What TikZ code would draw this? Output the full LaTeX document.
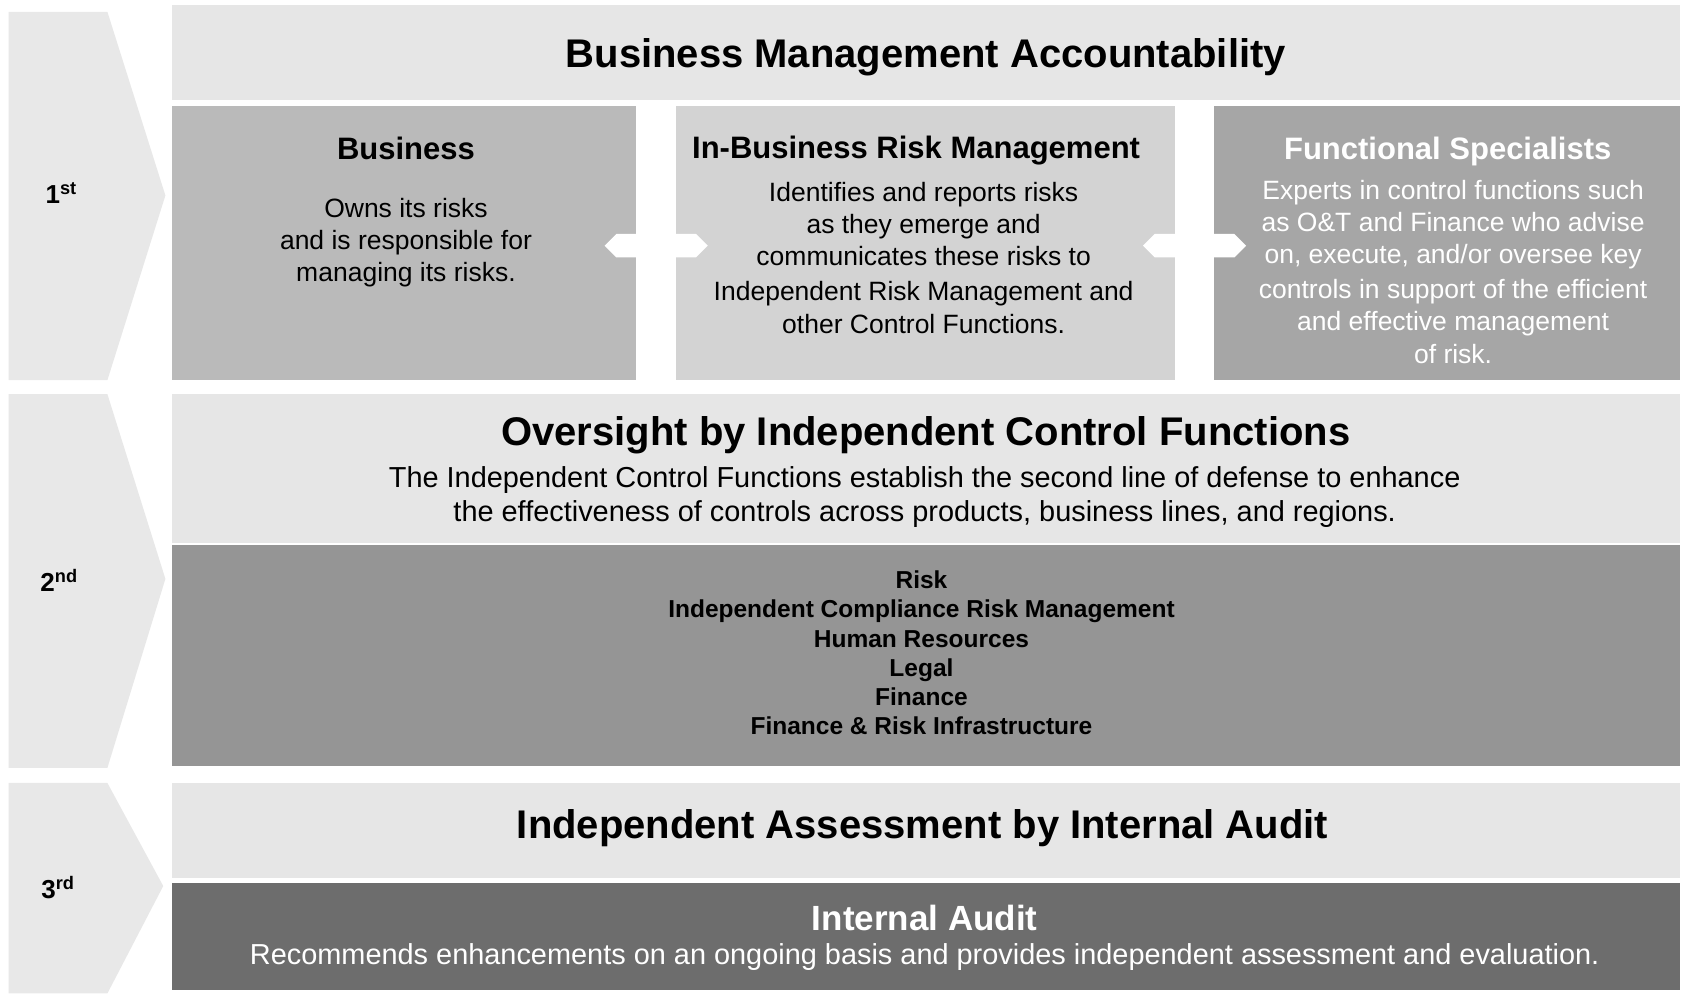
\documentclass[tikz,border=0pt]{standalone}
\usepackage{fontspec}
\setmainfont{Liberation Sans}
\usetikzlibrary{fit,calc}
\definecolor{bannergray}{HTML}{E6E6E6}
\definecolor{chevgray}{HTML}{E8E8E8}
\definecolor{bizgray}{HTML}{BABABA}
\definecolor{ibrmgray}{HTML}{D3D3D3}
\definecolor{specgray}{HTML}{A6A6A6}
\definecolor{icfgray}{HTML}{959595}
\definecolor{auditgray}{HTML}{6D6D6D}
\tikzset{
  block/.style = {inner sep=0pt, outer sep=0pt},
  headline/.style = {font=\fontsize{40}{46}\selectfont\bfseries},
  boxtitle/.style = {font=\fontsize{31}{36}\selectfont\bfseries},
  boxtext/.style = {align=center, font=\fontsize{26.5}{32.2}\selectfont},
  widetext/.style = {align=center, font=\fontsize{28.9}{34.4}\selectfont},
  listtext/.style = {align=center, font=\fontsize{24.5}{29.2}\selectfont\bfseries},
  linelabel/.style = {font=\fontsize{26}{30}\selectfont\bfseries},
  dblarrow/.pic = {\fill[white] (-48,0) -- (-37,-11) -- (37,-11) -- (48,0) -- (37,11) -- (-37,11) -- cycle;}
}
\begin{document}
\begin{tikzpicture}[x=1.074pt, y=-1.074pt]
\fill[white] (0,0) rectangle (1568,925);
\useasboundingbox (0,0) rectangle (1568,925);
% chevrons on the left
\foreach \ytop/\ytip/\ybot/\xtip in {11/182/354/154, 367/539/715/154, 729/825/925/152}
  \fill[chevgray] (8,\ytop) -- (100,\ytop) -- (\xtip,\ytip) -- (100,\ybot) -- (8,\ybot) -- cycle;
\node[linelabel] (first) at (57,180) {1\textsuperscript{st}};
\node[linelabel] (second) at (55,540) {2\textsuperscript{nd}};
\node[linelabel] (third) at (54,826) {3\textsuperscript{rd}};
% first line
\node[block, fill=bannergray, fit={(160,5) (1564,93)}] (bmabar) {};
\node[block, fill=bizgray, fit={(160,98.5) (592.5,354)}] (biz) {};
\node[block, fill=ibrmgray, fit={(629.5,98.5) (1094,354)}] (ibrm) {};
\node[block, fill=specgray, fit={(1130.5,98.5) (1564,354)}] (spec) {};
\pic (arrowA) at ($(biz.east)!.5!(ibrm.west)+(0,2.5)$) {dblarrow};
\pic (arrowB) at ($(ibrm.east)!.5!(spec.west)+(0,2.5)$) {dblarrow};
\node[headline] (bmatitle) at (862,53) {Business Management Accountability};
\node[boxtitle] (biztitle) at (378,138) {Business};
\node[boxtext] (biztext) at (378,226) {Owns its risks\\and is responsible for\\managing its risks.};
\node[boxtitle] (ibrmtitle) at (853,140) {In-Business Risk Management};
\node[boxtext] (ibrmtext) at (860,240) {Identifies and reports risks\\as they emerge and\\communicates these risks to\\[3pt]Independent Risk Management and\\other Control Functions.};
\node[boxtitle, white] (spectitle) at (1348,141) {Functional Specialists};
\node[boxtext, white] (spectext) at (1353,253) {Experts in control functions such\\as O\&T and Finance who advise\\on, execute, and/or oversee key\\[3pt]controls in support of the efficient\\and effective management\\of risk.};
% second line
\node[block, fill=bannergray, fit={(160,367) (1564,505.5)}] (ovbar) {};
\node[block, fill=icfgray, fit={(160,507.5) (1564,713)}] (icf) {};
\node[headline] (ovtitle) at (862,405) {Oversight by Independent Control Functions};
\node[widetext] (ovtext) at (861,463) {The Independent Control Functions establish the second line of defense to enhance\\the effectiveness of controls across products, business lines, and regions.};
\node[listtext] (icflist) at (858,608) {Risk\\Independent Compliance Risk Management\\Human Resources\\Legal\\Finance\\Finance \& Risk Infrastructure};
% third line
\node[block, fill=bannergray, fit={(160,729) (1564,817.5)}] (iabar) {};
\node[block, fill=auditgray, fit={(160,822) (1564,922)}] (audit) {};
\node[headline] (iatitle) at (859,771) {Independent Assessment by Internal Audit};
\node[boxtitle, white, font=\fontsize{35}{40}\selectfont\bfseries] (audtitle) at (861,855) {Internal Audit};
\node[widetext, white] (audtext) at (861,891) {Recommends enhancements on an ongoing basis and provides independent assessment and evaluation.};
\end{tikzpicture}
\end{document}
